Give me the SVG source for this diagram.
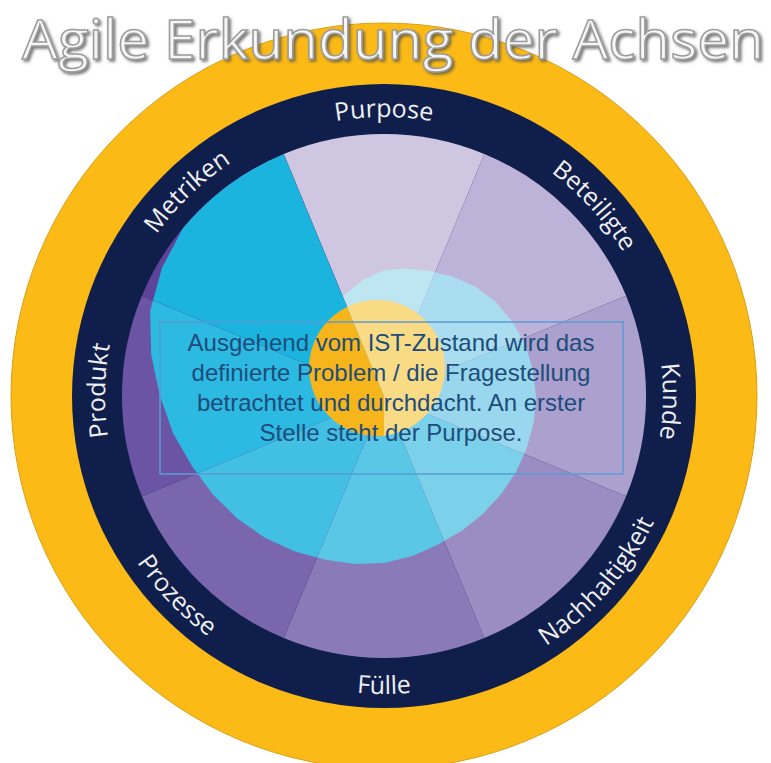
<svg xmlns="http://www.w3.org/2000/svg" xmlns:xlink="http://www.w3.org/1999/xlink" width="771" height="763" viewBox="0 0 771 763">
  <style>
    .ring-label { font-family: "Open Sans", "Noto Sans", "Liberation Sans", sans-serif; font-size: 25px; fill: #EFEFF3; }
    .note { font-family: "Liberation Sans", Arial, sans-serif; font-size: 24px; fill: #1E4C7A; text-anchor: middle; }
    .title { font-family: "Open Sans", "Noto Sans", "Liberation Sans", sans-serif; font-size: 54px; fill: #F6F6F6; stroke: #9C9C9C; stroke-width: 1.5; text-anchor: middle; }
    .p0 { fill: #CFC7E1; } .p1 { fill: #BDB3D9; } .p2 { fill: #ABA0CE; } .p3 { fill: #9B8DC4; }
    .p4 { fill: #8A7BB8; } .p5 { fill: #7A66AD; } .p6 { fill: #6C54A4; } .p7 { fill: #5F4399; }
    .c0 { fill: #BEE5F2; } .c1 { fill: #AADDEF; } .c2 { fill: #98D7ED; } .c3 { fill: #7BD0EA; }
    .c4 { fill: #5AC7E6; } .c5 { fill: #41C0E4; } .c6 { fill: #2CB9E2; } .c7 { fill: #1BB4DF; }
  </style>
  <defs>
    <!-- eight 45° wedges around the hub (384,396), radius 262 -->
    <path id="w0" d="M384,396 L283.7,153.9 A262,262 0 0 1 484.3,153.9 Z"/>
    <path id="w1" d="M384,396 L484.3,153.9 A262,262 0 0 1 626.1,295.7 Z"/>
    <path id="w2" d="M384,396 L626.1,295.7 A262,262 0 0 1 626.1,496.3 Z"/>
    <path id="w3" d="M384,396 L626.1,496.3 A262,262 0 0 1 484.3,638.1 Z"/>
    <path id="w4" d="M384,396 L484.3,638.1 A262,262 0 0 1 283.7,638.1 Z"/>
    <path id="w5" d="M384,396 L283.7,638.1 A262,262 0 0 1 141.9,496.3 Z"/>
    <path id="w6" d="M384,396 L141.9,496.3 A262,262 0 0 1 141.9,295.7 Z"/>
    <path id="w7" d="M384,396 L141.9,295.7 A262,262 0 0 1 283.7,153.9 Z"/>
    <!-- spiral-shaped area of the blue inner fill -->
    <clipPath id="blob">
      <path d="M384,396 L342.7,296.2 L363.5,279.8 L384,270 L406.5,268.4 L429.5,270.9 L452.8,276.8 L475.7,286.8 L495.9,302.1 L512.4,321.8 L525.1,344.6 L532.8,369.8 L536,396 L533.7,422.4 L526.8,448 L515.9,472.2 L501,494.2 L482.9,513.9 L461.8,530.8 L438.1,544.6 L412.2,556.1 L384,563 L354.4,564 L324.5,559.6 L294.3,551.3 L265,537.8 L237.6,518.8 L213.1,494.7 L191.9,465.9 L173.1,433.2 L160,396 L151.2,355 L150.1,310.9 L162,267.8 L183.3,227.6 A262,262 0 0 1 283.7,153.9 Z"/>
    </clipPath>
    <clipPath id="warm">
      <polygon points="384,396 384,763 0,763 0,0 230.9,26.4"/>
    </clipPath>
    <clipPath id="cool">
      <polygon points="384,396 230.9,26.4 771,0 771,763 384,763"/>
    </clipPath>
    <!-- circular baselines for the axis names -->
    <path id="arc-cw" d="M384,675 A279,279 0 1 1 384,117 A279,279 0 1 1 384,675"/>
    <path id="arc-ccw" d="M384,98 A298,298 0 1 0 384,694 A298,298 0 1 0 384,98"/>
    <filter id="emboss" x="-5%" y="-30%" width="110%" height="160%">
      <feDropShadow dx="2" dy="2" stdDeviation="1.4" flood-color="#4A4A4A" flood-opacity="0.75"/>
    </filter>
  </defs>

  <rect width="771" height="763" fill="#FFFFFF"/>

  <!-- outer rings -->
  <g id="rings">
    <circle cx="384" cy="396" r="373" fill="#FBBA16" stroke="#D9A01A" stroke-width="1"/>
    <circle cx="384" cy="396" r="312" fill="#0F1E4B"/>
  </g>

  <!-- axes -->
  <g id="axis-purpose">
    <use xlink:href="#w0" class="p0"/>
    <use xlink:href="#w0" class="c0" clip-path="url(#blob)"/>
    <text class="ring-label"><textPath xlink:href="#arc-cw" startOffset="50%" text-anchor="middle">Purpose</textPath></text>
  </g>
  <g id="axis-beteiligte">
    <use xlink:href="#w1" class="p1"/>
    <use xlink:href="#w1" class="c1" clip-path="url(#blob)"/>
    <text class="ring-label"><textPath xlink:href="#arc-cw" startOffset="63.3%" text-anchor="middle">Beteiligte</textPath></text>
  </g>
  <g id="axis-kunde">
    <use xlink:href="#w2" class="p2"/>
    <use xlink:href="#w2" class="c2" clip-path="url(#blob)"/>
    <text class="ring-label"><textPath xlink:href="#arc-cw" startOffset="75.3%" text-anchor="middle">Kunde</textPath></text>
  </g>
  <g id="axis-nachhaltigkeit">
    <use xlink:href="#w3" class="p3"/>
    <use xlink:href="#w3" class="c3" clip-path="url(#blob)"/>
    <text class="ring-label"><textPath xlink:href="#arc-ccw" startOffset="63.6%" text-anchor="middle">Nachhaltigkeit</textPath></text>
  </g>
  <g id="axis-fuelle">
    <use xlink:href="#w4" class="p4"/>
    <use xlink:href="#w4" class="c4" clip-path="url(#blob)"/>
    <text class="ring-label"><textPath xlink:href="#arc-ccw" startOffset="50%" text-anchor="middle">Fülle</textPath></text>
  </g>
  <g id="axis-prozesse">
    <use xlink:href="#w5" class="p5"/>
    <use xlink:href="#w5" class="c5" clip-path="url(#blob)"/>
    <text class="ring-label"><textPath xlink:href="#arc-ccw" startOffset="37.2%" text-anchor="middle">Prozesse</textPath></text>
  </g>
  <g id="axis-produkt">
    <use xlink:href="#w6" class="p6"/>
    <use xlink:href="#w6" class="c6" clip-path="url(#blob)"/>
    <text class="ring-label"><textPath xlink:href="#arc-cw" startOffset="25.3%" text-anchor="middle">Produkt</textPath></text>
  </g>
  <g id="axis-metriken">
    <use xlink:href="#w7" class="p7"/>
    <use xlink:href="#w7" class="c7" clip-path="url(#blob)"/>
    <text class="ring-label"><textPath xlink:href="#arc-cw" startOffset="37.8%" text-anchor="middle">Metriken</textPath></text>
  </g>

  <!-- current-state core -->
  <g id="core">
    <circle cx="377" cy="368" r="68" fill="#F6B61B" clip-path="url(#warm)"/>
    <circle cx="377" cy="368" r="68" fill="#F9DB86" clip-path="url(#cool)"/>
  </g>

  <!-- explanation box -->
  <g id="note">
    <rect x="160" y="322" width="463" height="152" fill="none" stroke="#5B9BD5" stroke-width="1.5"/>
    <text class="note" x="391" y="351">Ausgehend vom IST-Zustand wird das</text>
    <text class="note" x="391" y="381">definierte Problem / die Fragestellung</text>
    <text class="note" x="391" y="411">betrachtet und durchdacht. An erster</text>
    <text class="note" x="391" y="441">Stelle steht der Purpose.</text>
  </g>

  <!-- heading -->
  <g id="heading">
    <text class="title" x="393" y="59" textLength="742" lengthAdjust="spacingAndGlyphs" filter="url(#emboss)">Agile Erkundung der Achsen</text>
  </g>
</svg>
